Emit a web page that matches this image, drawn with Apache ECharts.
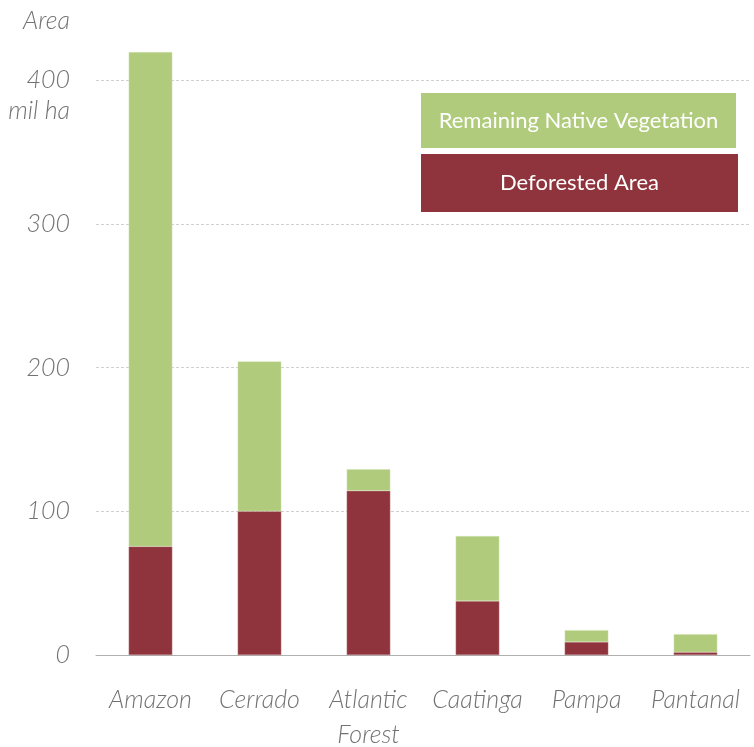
<!DOCTYPE html>
<html>
<head>
<meta charset="utf-8">
<script src="https://cdn.jsdelivr.net/npm/echarts@6/dist/echarts.min.js"></script>
<style>
  html, body { margin: 0; padding: 0; background: #fff; }
  #chart { width: 754px; height: 747px; }
</style>
</head>
<body>
<div id="chart"></div>
<script>
// biomes and areas in mil ha
var biomes = ["Amazon", "Cerrado", "Atlantic\nForest", "Caatinga", "Pampa", "Pantanal"];
var deforested = [75.5, 100, 114.2, 37.5, 9.1, 1.9];
var remaining = [343.9, 104.2, 15, 45.2, 8.2, 12.6];
var yTicks = [0, 100, 200, 300, 400];

var fontFamily = "Lato, 'Liberation Sans Narrow', 'DejaVu Sans Condensed', sans-serif";
var textGray = "#727272";

var chart = echarts.init(document.getElementById("chart"));
var option = {
  animation: false,
  grid: {
    left: 96,
    right: 4,
    top: 80,
    bottom: 92,
    outerBoundsMode: "none"
  },
  legend: {
    orient: "vertical",
    left: 410,
    top: 88,
    itemWidth: 0,
    itemHeight: 0,
    itemGap: 6,
    selectedMode: false,
    data: ["Remaining Native Vegetation", "Deforested Area"],
    formatter: function(name) {
      return name == "Deforested Area" ? "{r|" + name + "}" : "{g|" + name + "}";
    },
    textStyle: {
      fontFamily: fontFamily,
      rich: {
        g: {
          width: 315,
          height: 55,
          lineHeight: 55,
          align: "center",
          color: "#fff",
          fontSize: 22,
          fontFamily: fontFamily,
          backgroundColor: "#b0cb7b"
        },
        r: {
          width: 317,
          height: 58,
          lineHeight: 58,
          align: "center",
          color: "#fff",
          fontSize: 22,
          fontFamily: fontFamily,
          backgroundColor: "#8f333c"
        }
      }
    }
  },
  xAxis: {
    type: "category",
    data: biomes,
    axisLine: {
      lineStyle: { color: "#b0b0b0", width: 1 }
    },
    axisTick: {
      length: 13,
      lineStyle: { color: "#b0b0b0" }
    },
    axisLabel: {
      interval: 0,
      margin: 27,
      lineHeight: 35,
      fontSize: 25,
      fontWeight: 300,
      fontStyle: "italic",
      color: textGray,
      fontFamily: fontFamily
    }
  },
  yAxis: {
    type: "value",
    min: 0,
    max: 400,
    interval: 100,
    name: "Area",
    nameLocation: "end",
    nameGap: 42,
    nameTextStyle: {
      align: "right",
      padding: [0, 26, 0, 0],
      fontSize: 25,
      fontWeight: 300,
      fontStyle: "italic",
      color: textGray,
      fontFamily: fontFamily
    },
    axisLine: { show: false },
    axisTick: { show: false },
    axisLabel: {
      margin: 26,
      fontSize: 25,
      fontWeight: 300,
      lineHeight: 31,
      fontStyle: "italic",
      color: textGray,
      fontFamily: fontFamily,
      formatter: function(v) {
        if (v == 400) return "\u00a0\n400\nmil ha";
        return yTicks.indexOf(v) >= 0 ? String(v) : "";
      }
    },
    splitLine: {
      lineStyle: { type: [3, 2], color: "#d0d0d0" }
    }
  },
  series: [
    {
      name: "Deforested Area",
      type: "bar",
      stack: "area",
      barWidth: "40%",
      clip: false,
      itemStyle: { color: "#8f333c", borderColor: "#b9797e", borderWidth: 0.5 },
      data: deforested
    },
    {
      name: "Remaining Native Vegetation",
      type: "bar",
      stack: "area",
      barWidth: "40%",
      clip: false,
      itemStyle: { color: "#b0cb7b", borderColor: "#d3e2b5", borderWidth: 0.5 },
      data: remaining
    }
  ]
};
chart.setOption(option);
</script>
</body>
</html>
